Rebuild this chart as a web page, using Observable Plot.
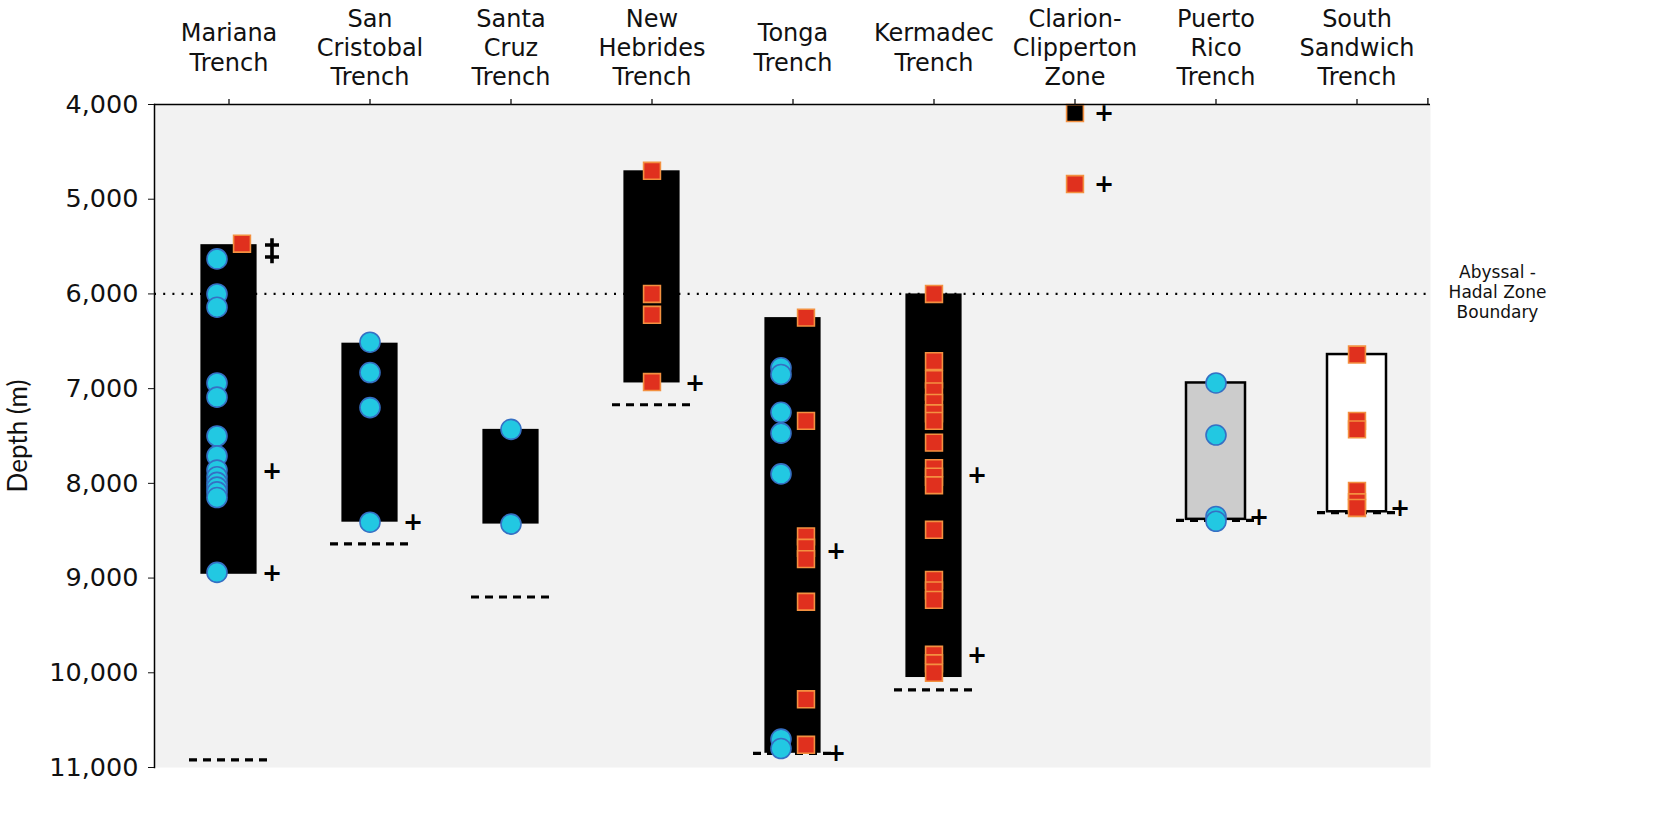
<!DOCTYPE html>
<html><head><meta charset="utf-8">
<script src="https://cdn.jsdelivr.net/npm/d3@7"></script>
<script src="https://cdn.jsdelivr.net/npm/@observablehq/plot@0.6"></script>
<style>
html,body{margin:0;padding:0;background:#fff;}
#chart svg{display:block;}
</style>
</head><body><div id="chart"></div>
<script>
// Categories
const trenches = ["Mariana Trench","San Cristobal Trench","Santa Cruz Trench","New Hebrides Trench","Tonga Trench","Kermadec Trench","Clarion-Clipperton Zone","Puerto Rico Trench","South Sandwich Trench"];
const trenchLabels = ["Mariana\nTrench","San\nCristobal\nTrench","Santa\nCruz\nTrench","New\nHebrides\nTrench","Tonga\nTrench","Kermadec\nTrench","Clarion-\nClipperton\nZone","Puerto\nRico\nTrench","South\nSandwich\nTrench"];
// Depth range bars (m)
const rangeTop =    [5480, 6520, 7430, 4700, 6250, 6000, null, 6940, 6640];
const rangeBottom = [8960, 8410, 8430, 6940, 10850, 10050, null, 8380, 8300];
const rangeKind =   ["black","black","black","black","black","black",null,"grey","white"];
// Maximum trench depth (dashed)
const maxDepth = [10920, 8640, 9200, 7170, 10850, 10180, null, 8390, 8310];
// Circle records (m)
const circleDepths = [
  [5630, 6000, 6140, 6940, 7090, 7500, 7710, 7860, 7930, 7990, 8040, 8090, 8150, 8940],
  [6510, 6830, 7200, 8410],
  [7430, 8430],
  [],
  [6780, 6850, 7250, 7470, 7900, 10700, 10800],
  [],
  [],
  [6940, 7490, 8350, 8400],
  []
];
// Square records (m)
const squareDepths = [
  [5470],
  [],
  [],
  [4700, 6000, 6220, 6930],
  [6250, 7340, 8560, 8680, 8800, 9250, 10280, 10760],
  [6000, 6710, 6900, 7030, 7150, 7260, 7340, 7570, 7840, 7930, 8020, 8490, 9020, 9130, 9230, 9810, 9900, 10000],
  [4840],
  [],
  [6640, 7340, 7430, 8080, 8200, 8260]
];
// Black square records (m)
const blackSquareDepths = [[],[],[],[],[],[],[4090],[],[]];
// "+" markers (m)
const plusDepths = [
  [7870, 8950],
  [8410],
  [],
  [6940],
  [8720, 10850],
  [7920, 9820],
  [4090, 4840],
  [8360],
  [8260]
];
// "‡" (double cross) markers (m)
const doubleCrossDepths = [[5545],[],[],[],[],[],[],[],[]];
const yTicks = [4000, 5000, 6000, 7000, 8000, 9000, 10000, 11000];
const boundaryDepth = [6000];
const boundaryLabel = "Abyssal -\nHadal Zone\nBoundary";

// Build tables
const bars = trenches.map((t,i)=>({trench:t, top:rangeTop[i], bottom:rangeBottom[i], kind:rangeKind[i]})).filter(d=>d.top!=null);
const maxRows = trenches.map((t,i)=>({trench:t, depth:maxDepth[i]})).filter(d=>d.depth!=null);
const mixed = trenches.map((t,i)=>circleDepths[i].length>0 && squareDepths[i].length>0);
const circleRows = trenches.flatMap((t,i)=>circleDepths[i].map(d=>({trench:t, depth:d, mixed:mixed[i]})));
const squareRows = trenches.flatMap((t,i)=>squareDepths[i].map(d=>({trench:t, depth:d, mixed:mixed[i]})));
const blackRows = trenches.flatMap((t,i)=>blackSquareDepths[i].map(d=>({trench:t, depth:d})));
const plusRows = trenches.flatMap((t,i)=>plusDepths[i].map(d=>({trench:t, depth:d, bar:rangeTop[i]!=null})));
const doubleRows = trenches.flatMap((t,i)=>doubleCrossDepths[i].map(d=>({trench:t, depth:d})));

// custom "‡" symbol (two stacked crosses)
const doubleCross = {
  draw(context) {
    const w = 1.8, a = 7;
    context.rect(-w, -12.5, 2*w, 25);
    context.rect(-a, -7.6, 2*a, 2*w);
    context.rect(-a, 4.4, 2*a, 2*w);
  }
};

const circleStyle = {r:10, fill:"#22c8e2", stroke:"#3570c4", strokeWidth:1.6};
const squareStyle = {symbol:"square", r:9.5, fill:"#e0301e", stroke:"#f39040", strokeWidth:1.6};
const plusStyle = {text:()=>"+", fontSize:24, fontWeight:"bold", fill:"black", fontFamily:"DejaVu Sans"};

const chart = Plot.plot({
  width:1665, height:832,
  marginTop:104, marginBottom:65, marginLeft:154, marginRight:235,
  style:{fontFamily:"DejaVu Sans", fontSize:"22px", color:"#111", background:"white", overflow:"visible"},
  x:{domain:trenches, padding:0, axis:null},
  y:{domain:[4000,11000], reverse:true, axis:null},
  marks:[
    Plot.frame({fill:"#f2f2f2", stroke:null}),
    Plot.ruleY(boundaryDepth, {stroke:"black", strokeWidth:2.2, strokeDasharray:"2,7.2"}),
    Plot.text(boundaryDepth, {y:d=>d, frameAnchor:"right", dx:67, dy:-2, text:()=>boundaryLabel, textAnchor:"middle", fontSize:17, lineHeight:1.18, fill:"#111"}),
    // range bars
    Plot.barY(bars.filter(d=>d.kind==="black"), {x:"trench", y1:"top", y2:"bottom", fill:"black", insetLeft:42.4, insetRight:42.4}),
    Plot.barY(bars.filter(d=>d.kind==="grey"), {x:"trench", y1:"top", y2:"bottom", fill:"#cccccc", stroke:"black", strokeWidth:2.5, insetLeft:41, insetRight:41}),
    Plot.barY(bars.filter(d=>d.kind==="white"), {x:"trench", y1:"top", y2:"bottom", fill:"white", stroke:"black", strokeWidth:2.5, insetLeft:41, insetRight:41}),
    // maximum depth
    Plot.tickY(maxRows, {x:"trench", y:"depth", stroke:"black", strokeWidth:3.2, strokeDasharray:"8,6", insetLeft:31, insetRight:31}),
    // circles
    Plot.dot(circleRows.filter(d=>d.mixed), {x:"trench", y:"depth", dx:-12, ...circleStyle}),
    Plot.dot(circleRows.filter(d=>!d.mixed), {x:"trench", y:"depth", ...circleStyle}),
    // squares
    Plot.dot(squareRows.filter(d=>d.mixed), {x:"trench", y:"depth", dx:13, ...squareStyle}),
    Plot.dot(squareRows.filter(d=>!d.mixed), {x:"trench", y:"depth", ...squareStyle}),
    Plot.dot(blackRows, {x:"trench", y:"depth", ...squareStyle, fill:"black"}),
    // plus markers
    Plot.text(plusRows.filter(d=>d.bar), {x:"trench", y:"depth", dx:43, ...plusStyle}),
    Plot.text(plusRows.filter(d=>!d.bar), {x:"trench", y:"depth", dx:29, ...plusStyle}),
    Plot.dot(doubleRows, {x:"trench", y:"depth", dx:43, symbol:doubleCross, r:8, fill:"black", stroke:null}),
    // axes
    Plot.ruleY([4000], {stroke:"black", strokeWidth:1.5}),
    Plot.frame({anchor:"left", stroke:"black", strokeWidth:1.5}),
    Plot.axisX({anchor:"top", tickSize:6, tickFormat:()=>"", label:null, strokeWidth:1.3}),
    Plot.ruleX([trenches[trenches.length-1]], {dx:70.9, y1:4000, y2:4000, insetTop:-6, stroke:"black", strokeWidth:1.3}),
    Plot.text(trenches, {x:d=>d, text:(d,i)=>trenchLabels[i], frameAnchor:"top", dy:-58, lineAnchor:"middle", fontSize:24, lineHeight:1.22, fill:"#111"}),
    Plot.axisY({ticks:yTicks, tickFormat:d3.format(","), tickSize:6, tickPadding:10, fontSize:25.5, label:null, fill:"#111"}),
    Plot.text(["Depth (m)"], {frameAnchor:"left", dx:-136, rotate:-90, textAnchor:"middle", text:d=>d, fontSize:26, fontFamily:"Lato", fill:"#111"})
  ]
});
document.getElementById("chart").appendChild(chart);
</script>
</body></html>
